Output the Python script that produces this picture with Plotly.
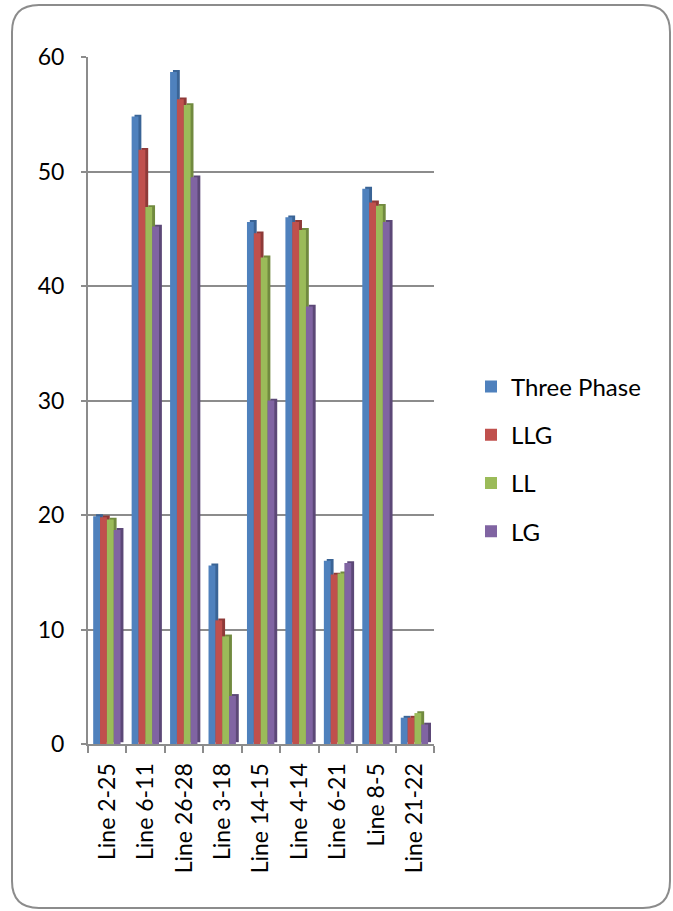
import plotly.graph_objects as go

# Fault current per line for each fault type
lines = ["Line 2-25", "Line 6-11", "Line 26-28", "Line 3-18", "Line 14-15",
         "Line 4-14", "Line 6-21", "Line 8-5", "Line 21-22"]
three_phase = [19.9, 54.8, 58.7, 15.6, 45.6, 46.0, 16.0, 48.5, 2.3]
llg = [19.8, 51.9, 56.3, 10.8, 44.6, 45.6, 14.8, 47.3, 2.3]
ll = [19.6, 46.9, 55.8, 9.4, 42.5, 44.9, 14.9, 47.0, 2.7]
lg = [18.7, 45.2, 49.5, 4.2, 30.0, 38.2, 15.8, 45.6, 1.7]

series = [
    ("Three Phase", three_phase, "#4F81BD", "#3A6496"),
    ("LLG", llg, "#C0504D", "#8E3A38"),
    ("LL", ll, "#9BBB59", "#718A3F"),
    ("LG", lg, "#8064A2", "#5C4877"),
]

# plot-area geometry in pixels (used for the frame outline and legend placement)
W, H = 673, 911
L, R, T, B = 88, 434, 57, 744
pw, ph = R - L, B - T

def px(x):
    return (x - L) / pw

def py(y):
    return (B - y) / ph

bar_w = 0.178
start = -0.365
depth_dx = 0.075   # side-face shift (category units)
depth_dy = 0.16    # top-cap lift (value units)

fig = go.Figure()
for i, (name, vals, col, dark) in enumerate(series):
    off = start + i * bar_w
    # darker side face giving the extruded look
    fig.add_trace(go.Bar(
        x=lines, y=vals, base=depth_dy, name=name, legendgroup=name,
        showlegend=False, marker=dict(color=dark, line=dict(width=0)),
        offset=off + depth_dx, width=bar_w, hoverinfo="skip",
    ))
    fig.add_trace(go.Bar(
        x=lines, y=vals, name=name, legendgroup=name,
        marker=dict(color=col, line=dict(width=0)),
        offset=off, width=bar_w,
    ))

# rounded outer frame
x0, x1, y0, y1, r = 12, 670, 5, 908, 27
def P(x, y):
    return f"{px(x):.5f},{py(y):.5f}"
path = (f"M {P(x0 + r, y0)} L {P(x1 - r, y0)} Q {P(x1, y0)} {P(x1, y0 + r)} "
        f"L {P(x1, y1 - r)} Q {P(x1, y1)} {P(x1 - r, y1)} "
        f"L {P(x0 + r, y1)} Q {P(x0, y1)} {P(x0, y1 - r)} "
        f"L {P(x0, y0 + r)} Q {P(x0, y0)} {P(x0 + r, y0)} Z")

fig.update_layout(
    width=W, height=H,
    margin=dict(l=L, r=W - R, t=T, b=H - B),
    paper_bgcolor="white", plot_bgcolor="white",
    barmode="overlay",
    font=dict(family="Lato, 'Liberation Sans', sans-serif", size=23, color="black"),
    shapes=[dict(type="path", xref="paper", yref="paper", path=path,
                 line=dict(color="#8C8C8C", width=2), layer="below")],
    legend=dict(x=px(471), y=py(459), xanchor="left", yanchor="middle",
                font=dict(size=24), tracegroupgap=14, bgcolor="rgba(0,0,0,0)"),
    showlegend=True,
)
fig.update_xaxes(
    type="category", tickangle=-90, showline=True, linecolor="#8C8C8C", linewidth=2,
    ticks="outside", tickson="boundaries", ticklen=7, tickcolor="#8C8C8C", tickwidth=2,
    showgrid=False, ticklabelstandoff=8, range=[-0.5, 8.5],
)
fig.update_yaxes(
    range=[0, 60], dtick=10, showline=True, linecolor="#8C8C8C", linewidth=2,
    ticks="outside", ticklen=5, tickcolor="#8C8C8C", tickwidth=2,
    showgrid=True, gridcolor="#8C8C8C", gridwidth=2, zeroline=False,
    ticklabelstandoff=12,
)

fig.write_html("out.html")
